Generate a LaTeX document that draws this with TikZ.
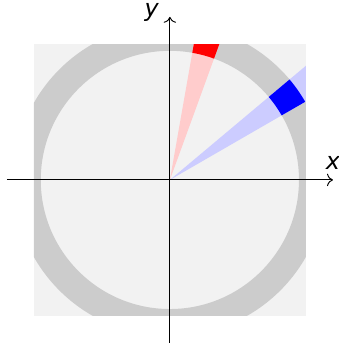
\documentclass[tikz,border=0pt]{standalone}
\usepackage{fontspec}
\setmainfont{DejaVu Sans}
\usepackage{tikz}
\usetikzlibrary{arrows.meta}
\definecolor{boxgray}{RGB}{242,242,242}
\definecolor{ringgray}{RGB}{204,204,204}
\definecolor{beamred}{RGB}{255,204,204}
\definecolor{beamblue}{RGB}{204,204,255}

\begin{document}
\begin{tikzpicture}[x=2cm,y=2cm]
    \useasboundingbox (-1.25,-1.2) rectangle (1.243,1.324);
    \begin{scope}
      \clip (-1,-1) rectangle (1,1);
      % box and annulus
      \fill[boxgray] (-1,-1) rectangle (1,1);
      \fill[ringgray,even odd rule] (0,0) circle (1.15) (0,0) circle (0.95);

      % red beam: cone and hit on the ring
      \fill[beamred] (0,0) -- (70:2) -- (80:2) -- cycle;
      \fill[red] (70:0.95) arc (70:80:0.95) -- (80:1.15) arc (80:70:1.15) -- cycle;

      % blue beam: cone and hit on the ring
      \fill[beamblue] (0,0) -- (30:2) -- (40:2) -- cycle;
      \fill[blue] (30:0.95) arc (30:40:0.95) -- (40:1.15) arc (40:30:1.15) -- cycle;
    \end{scope}

    % axes
    \coordinate (xmin) at (-1.2,0);
    \coordinate (xmax) at (1.2,0);
    \coordinate (ymin) at (0,-1.2);
    \coordinate (ymax) at (0,1.2);
    \draw[->] (xmin) -- (xmax);
    \draw[->] (ymin) -- (ymax);
    \node[above=1pt] (xlabel) at (xmax) {\textit{x}};
    \node[left=1pt,yshift=2pt] (ylabel) at (ymax) {\textit{y}};
  \end{tikzpicture}
\end{document}
